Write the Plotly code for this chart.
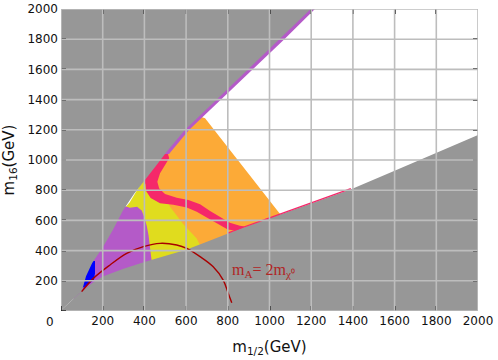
import numpy as np
import plotly.graph_objects as go

# ---------------- axis ticks ----------------
tick_vals = list(range(200, 2001, 200))
tick_text = [str(v) for v in tick_vals]
grid_vals = list(range(0, 2001, 200))

# ---------------- excluded-region boundaries (GeV) ----------------
upper_edge_x = [100, 120, 150, 200, 250, 297, 350, 403, 455, 507, 595, 747, 898, 1050, 1198]
upper_edge_y = [130, 230, 320, 420, 540, 665, 775, 865, 960, 1055, 1200, 1400, 1600, 1798, 2000]
lower_edge_x = [100, 150, 200, 300, 400, 500, 600, 700, 850, 1000, 1200, 1400, 1600, 1800, 2000]
lower_edge_y = [130, 185, 228, 280, 325, 365, 405, 458, 540, 614, 712, 812, 928, 1048, 1166]

# ---------------- coloured regions (GeV) ----------------
yellow_x = [280, 330, 400, 470, 560, 620, 690, 720, 720, 300]
yellow_y = [640, 720, 880, 760, 700, 575, 480, 400, 250, 250]

purple_x = [60, 60, 250, 330, 365, 387, 400, 412, 420, 428, 435, 440, 100]
purple_y = [60, 250, 720, 684, 690, 665, 620, 560, 500, 420, 330, 250, 40]

orange_x = [691, 1050, 1075, 680, 651, 587, 523, 500, 420, 500, 640]
orange_y = [1276, 647, 600, 400, 480, 575, 690, 760, 880, 1060, 1300]

pink_x = [470, 512, 519, 499, 475, 462, 471, 499, 555, 611, 667, 715, 763, 810, 858, 880,
          850, 800, 785, 747, 699, 651, 603, 539, 475, 430, 408, 405, 390]
pink_y = [1045, 1045, 1011, 967, 912, 856, 812, 775, 750, 735, 707, 662, 621, 585, 565, 560,
          530, 540, 552, 580, 620, 658, 686, 703, 714, 748, 795, 840, 880]

blue_x = [99, 107, 139, 155, 163, 163, 158, 139, 115]
blue_y = [150, 205, 305, 331, 331, 250, 205, 187, 161]

# thin purple strip along the upper edge, and thin pink line along the lower edge
strip_y_from = 1040
strip_width = 20
pink_line_x_from, pink_line_x_to = 800, 1390

# m_A = 2 m_chi curve
arc_x = [99, 155, 235, 315, 395, 475, 555, 603, 667, 730, 778, 802, 819]
arc_y = [128, 216, 305, 382, 426, 448, 437, 415, 360, 293, 205, 117, 55]

# ---------------- colours ----------------
GRAY = "#979797"
PURPLE = "#b45ac8"
YELLOW = "#e0dc1e"
ORANGE = "#fcaa37"
PINK = "#f5286a"
BLUE = "#0000ff"
DARKRED = "#a80000"

fig = go.Figure()


def add_fill(xs, ys, color):
    fig.add_trace(go.Scatter(x=list(xs), y=list(ys), fill="toself", mode="lines",
                             line=dict(width=0, color=color), fillcolor=color,
                             hoverinfo="skip", showlegend=False))


add_fill(yellow_x, yellow_y, YELLOW)
add_fill(purple_x, purple_y, PURPLE)
add_fill(orange_x, orange_y, ORANGE)
add_fill(pink_x, pink_y, PINK)

# purple strip built from the upper edge
ue_x = np.array(upper_edge_x, float)
ue_y = np.array(upper_edge_y, float)
sel = ue_y > strip_y_from
sy = np.concatenate([[strip_y_from], ue_y[sel]])
sx = np.interp(sy, ue_y, ue_x)
strip_xs = np.concatenate([sx + strip_width, (sx - 15)[::-1]])
strip_ys = np.concatenate([sy, sy[::-1]])
add_fill(strip_xs, strip_ys, PURPLE)

add_fill(blue_x, blue_y, BLUE)

# excluded (gray) regions
LO, HI = -20, 2020
add_fill(upper_edge_x + [LO, LO], upper_edge_y + [HI, LO], GRAY)
add_fill(lower_edge_x + [HI, HI, LO], lower_edge_y + [lower_edge_y[-1], LO, LO], GRAY)

# pink line along the lower edge
le_x = np.array(lower_edge_x, float)
le_y = np.array(lower_edge_y, float)
px_ = np.concatenate([[pink_line_x_from], le_x[(le_x > pink_line_x_from) & (le_x < pink_line_x_to)],
                      [pink_line_x_to]])
py_ = np.interp(px_, le_x, le_y)
fig.add_trace(go.Scatter(x=px_, y=py_ + 3, mode="lines", line=dict(color=PINK, width=1.3),
                         hoverinfo="skip", showlegend=False))

# gridlines above the fills, plus the short corner marks at the origin
GRID = "#bdbdbd"
shapes = []
for v in grid_vals:
    shapes.append(dict(type="line", xref="x", yref="y", x0=v, x1=v, y0=0, y1=2000,
                       line=dict(color=GRID, width=1.6), layer="above"))
    shapes.append(dict(type="line", xref="x", yref="y", x0=0, x1=2000, y0=v, y1=v,
                       line=dict(color=GRID, width=1.6), layer="above"))
shapes.append(dict(type="line", xref="x", yref="y", x0=0, x1=0, y0=0, y1=33,
                   line=dict(color="#222222", width=1.5), layer="above"))
shapes.append(dict(type="line", xref="x", yref="y", x0=0, x1=24, y0=0, y1=0,
                   line=dict(color="#222222", width=1.5), layer="above"))

# arc on top
fig.add_trace(go.Scatter(x=arc_x, y=arc_y, mode="lines", line=dict(color=DARKRED, width=1.4),
                         line_shape="spline", hoverinfo="skip", showlegend=False))

TICKFONT = dict(family="DejaVu Sans", size=12, color="#111111")
TITLEFONT = dict(family="DejaVu Sans", size=15, color="#111111")

fig.update_layout(
    width=498, height=360,
    margin=dict(l=61, r=20, t=9, b=49, autoexpand=False),
    paper_bgcolor="white", plot_bgcolor="white",
    shapes=shapes,
    xaxis=dict(range=[0, 2000], tickvals=tick_vals, ticktext=tick_text, ticks="inside",
               ticklen=5, tickwidth=1.5, tickcolor="#222222", mirror="ticks", showline=False,
               showgrid=False, zeroline=False, tickfont=TICKFONT, automargin=False,
               ticklabelstandoff=1,
               title=dict(text="m<sub>1/2</sub>(GeV)", font=TITLEFONT, standoff=14)),
    yaxis=dict(range=[0, 2000], tickvals=tick_vals, ticktext=tick_text, ticks="inside",
               ticklen=5, tickwidth=1.5, tickcolor="#222222", mirror="ticks", showline=False,
               showgrid=False, zeroline=False, tickfont=TICKFONT, automargin=False,
               ticklabelstandoff=2,
               title=dict(text="m<sub>16</sub>(GeV)", font=TITLEFONT, standoff=14)),
    annotations=[
        dict(x=0, y=0, xref="x", yref="y", text="0", showarrow=False, xshift=-11, yshift=-11,
             font=TICKFONT),
        dict(x=810, y=270, xref="x", yref="y", text="m<sub>A</sub>= 2m<sub>χ⁰</sub>",
             showarrow=False, xanchor="left", yanchor="middle",
             font=dict(family="Liberation Serif", size=16, color="#b02525")),
    ],
)

fig.write_html("out.html", config={"displayModeBar": False},
               post_script="document.body.style.margin='0';")
